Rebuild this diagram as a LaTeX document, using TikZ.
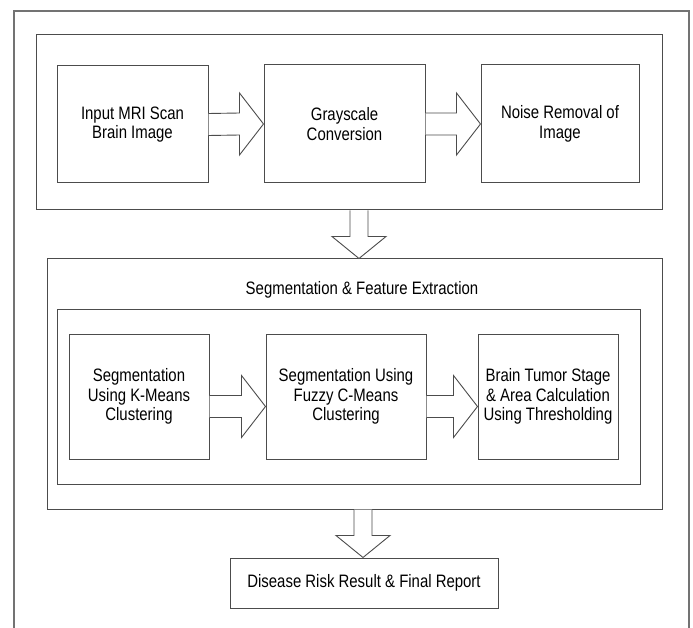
\documentclass[tikz,border=0pt]{standalone}
\usepackage{fontspec}
\setmainfont{Liberation Sans}[FakeStretch=0.83]
\usetikzlibrary{calc}

\tikzset{
  frameline/.style={draw=black!55,line width=1.2pt},
  groupbox/.style={draw=black!70,line width=1pt,rectangle,inner sep=0pt},
  stepbox/.style={draw=black!70,line width=1pt,rectangle,inner sep=0pt,align=center,
    font=\fontsize{18}{19.5}\selectfont},
  blockarrow/.style={draw=black!70,line width=0.9pt,fill=white,line join=miter}
}

\newcommand{\hblock}[3]{%
  \draw[blockarrow] ($(#1.east)+(0,#3-11)$) -- ($(#2.west)+(-24,#3-11)$) -- ($(#2.west)+(-24,#3-31)$)
    -- ($(#2.west)+(0,#3)$) -- ($(#2.west)+(-24,#3+31)$) -- ($(#2.west)+(-24,#3+11)$) -- ($(#1.east)+(0,#3+11)$);}
\newcommand{\vblock}[3]{%
  \draw[blockarrow] ($(#1.south -| #3)+(-9,0)$) -- ($(#2.north -| #3)+(-9,-22)$) -- ($(#2.north -| #3)+(-27,-22)$)
    -- (#2.north -| #3) -- ($(#2.north -| #3)+(27,-22)$) -- ($(#2.north -| #3)+(9,-22)$) -- ($(#1.south -| #3)+(9,0)$);}

\begin{document}
\begin{tikzpicture}[x=1pt,y=-1pt]
\useasboundingbox (0,0) rectangle (693,628);
\draw[frameline] (14,628) -- (14,11) -- (689,11) -- (689,628);

\node[groupbox,minimum width=626,minimum height=175] (pre) at (349,122.5) {};
\node[stepbox,minimum width=151,minimum height=117] (input) at (132.5,124.5) {Input MRI Scan\\Brain Image};
\node[stepbox,minimum width=161,minimum height=118] (gray) at (344.5,124) {Grayscale\\Conversion};
\node[stepbox,minimum width=158,minimum height=118] (noise) at (560,124) {Noise Removal of\\Image};

\node[groupbox,minimum width=615,minimum height=250] (seg) at (354.5,384) {};
\node[font=\fontsize{18}{19.5}\selectfont] (segtitle) at (362,290) {Segmentation \& Feature Extraction};
\node[groupbox,minimum width=583,minimum height=175] (segin) at (348.5,396.5) {};
\node[stepbox,minimum width=140,minimum height=125] (kmeans) at (139,396.5) {Segmentation\\Using K-Means\\Clustering};
\node[stepbox,minimum width=160,minimum height=125] (fcm) at (346,396.5) {Segmentation Using\\Fuzzy C-Means\\Clustering};
\node[stepbox,minimum width=140,minimum height=125] (stage) at (548,396.5) {Brain Tumor Stage\\\& Area Calculation\\Using Thresholding};

\node[stepbox,minimum width=268,minimum height=50] (report) at (364,583) {Disease Risk Result \& Final Report};

\coordinate (downa) at (359,0);
\coordinate (downb) at (363,0);

\hblock{input}{gray}{0}
\hblock{gray}{noise}{0}
\hblock{kmeans}{fcm}{10}
\hblock{fcm}{stage}{10}
\vblock{pre}{seg}{downa}
\vblock{seg}{report}{downb}
\end{tikzpicture}
\end{document}
